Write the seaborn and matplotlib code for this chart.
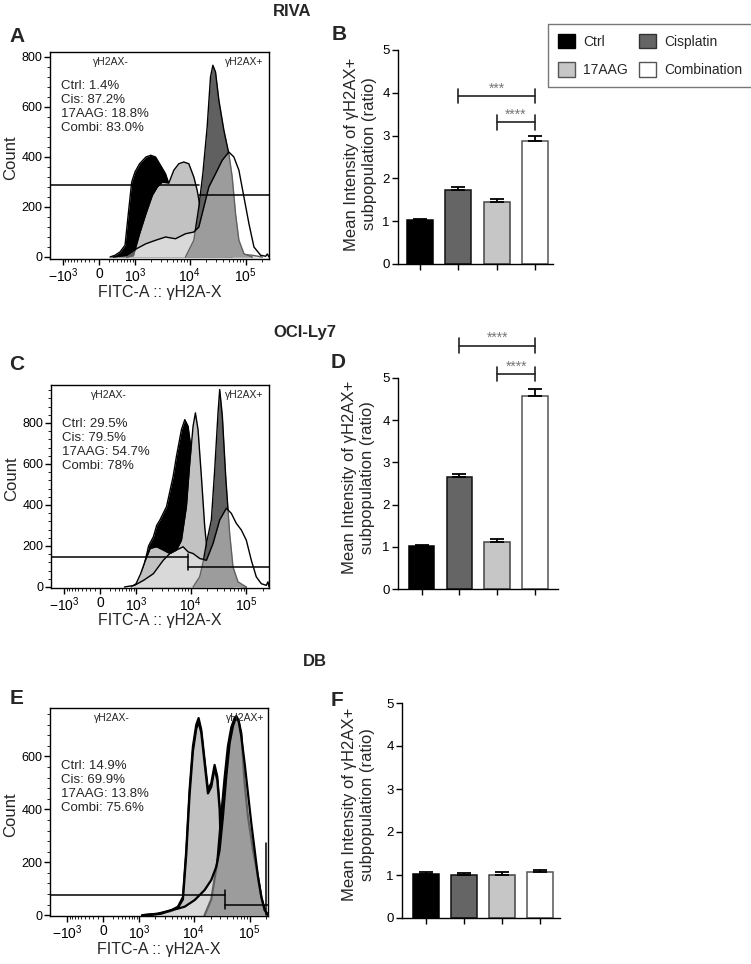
import numpy as np
import pandas as pd
import seaborn as sns
import matplotlib
matplotlib.use('Agg')
import matplotlib.pyplot as plt
from matplotlib.patches import Patch
from matplotlib.ticker import FixedLocator, AutoMinorLocator

# ---------------- bar chart data (B, D, F) ----------------
conditions = ['Ctrl', 'Cisplatin', '17AAG', 'Combination']
riva_mean = [1.02, 1.73, 1.46, 2.87]
riva_sem = [0.03, 0.08, 0.06, 0.12]
ocily7_mean = [1.01, 2.65, 1.12, 4.58]
ocily7_sem = [0.03, 0.07, 0.06, 0.17]
db_mean = [1.02, 1.01, 1.01, 1.07]
db_sem = [0.04, 0.03, 0.07, 0.05]

# significance brackets: (from bar, to bar, height, stars)
riva_sig = [(1, 3, 3.93, '***'), (2, 3, 3.31, '****')]
ocily7_sig = [(1, 3, 5.77, '****'), (2, 3, 5.10, '****')]
db_sig = []

# ---------------- flow histograms (A, C, E) ----------------
# x = FITC intensity, y = count
riva_ctrl_x = [225, 341, 468, 619, 730, 860, 1000, 1230, 1620, 1990, 2440, 3000, 3690, 4240, 5570, 8420, 14600, 29000, 57700]
riva_ctrl_y = [0, 7, 20, 47, 173, 300, 340, 373, 400, 407, 400, 367, 333, 293, 200, 100, 30, 5, 0]
riva_aag_x = [674, 931, 1230, 1620, 2130, 2620, 3215, 4240, 5200, 6400, 7870, 9665, 11880, 13620, 15630, 19220, 25290, 38200, 66170, 131600, 199000]
riva_aag_y = [0, 5, 93, 173, 247, 280, 300, 296, 347, 373, 380, 373, 320, 267, 193, 107, 53, 27, 13, 7, 0]
riva_cis_x = [8420, 11880, 14590, 17210, 20570, 23600, 26000, 29020, 33300, 40920, 50240, 57660, 66170, 75940, 93360, 131600]
riva_cis_y = [0, 67, 200, 333, 520, 720, 767, 740, 627, 507, 413, 320, 173, 67, 13, 0]
riva_combi_x = [300, 674, 1071, 1618, 2444, 3690, 5570, 8420, 11880, 14590, 17940, 22030, 29020, 38200, 50240, 61770, 75940, 93360, 114800, 141000, 185700, 228200, 244500, 262000]
riva_combi_y = [0, 7, 33, 53, 67, 80, 73, 93, 100, 120, 200, 280, 333, 387, 420, 400, 347, 240, 133, 40, 7, 3, 12, 0]

ocily7_ctrl_x = [931, 1229, 1733, 2130, 2444, 2805, 3690, 4860, 5570, 6855, 7870, 9020, 11090, 14590, 19220, 29020, 57660]
ocily7_ctrl_y = [0, 30, 200, 245, 300, 327, 392, 539, 637, 767, 816, 784, 600, 300, 100, 20, 0]
ocily7_aag_x = [797, 1000, 1229, 1510, 1857, 2444, 3215, 4235, 5570, 6855, 8420, 9665, 11090, 12210, 13620, 15630, 17940, 20570, 25290, 33300, 57660, 100000]
ocily7_aag_y = [0, 16, 65, 130, 188, 196, 180, 163, 180, 228, 392, 604, 784, 849, 767, 539, 294, 130, 49, 16, 5, 0]
ocily7_cis_x = [11090, 14590, 16740, 19220, 23600, 27090, 31090, 33300, 37150, 42660, 50240, 57660, 70890, 100000]
ocily7_cis_y = [0, 50, 120, 212, 327, 571, 849, 963, 833, 539, 261, 98, 25, 0]
ocily7_combi_x = [565, 931, 1409, 2130, 3215, 4235, 5570, 7345, 9020, 11090, 14590, 19220, 25290, 33300, 43840, 53820, 66170, 81350, 100000, 123000, 151000, 185700, 228200, 244500, 255000]
ocily7_combi_y = [0, 8, 33, 65, 130, 163, 180, 196, 171, 163, 139, 130, 212, 327, 384, 359, 310, 278, 228, 130, 49, 16, 8, 25, 0]

db_ctrl_x = [1147, 2280, 3955, 5200, 6400, 7345, 8420, 9665, 11090, 12210, 13620, 15630, 17940, 20570, 23600, 26370, 29020, 33300, 40920, 53820, 75940, 123000, 213000]
db_ctrl_y = [0, 6, 19, 32, 69, 246, 474, 638, 720, 745, 701, 587, 474, 499, 568, 524, 410, 246, 120, 57, 25, 13, 5]
db_aag_x = [1147, 2280, 3955, 5200, 6400, 7345, 8420, 9665, 11090, 12210, 13620, 15630, 17940, 20570, 23600, 26370, 29020, 31090, 35660, 46970, 66170, 114800, 173400, 213000]
db_aag_y = [0, 5, 16, 28, 60, 230, 455, 620, 705, 730, 690, 575, 460, 485, 555, 510, 400, 200, 158, 132, 95, 44, 13, 0]
db_cis_x = [15630, 20570, 26370, 31090, 35660, 40920, 46970, 53820, 57660, 63530, 70890, 81350, 93360, 114800, 141000, 161800, 185700, 213000]
db_cis_y = [0, 60, 200, 380, 520, 640, 710, 745, 752, 735, 688, 499, 373, 246, 145, 69, 20, 0]
db_combi_x = [1510, 2620, 3955, 5200, 6855, 10350, 15630, 20570, 25290, 29020, 33300, 38200, 43840, 50240, 57660, 63530, 70890, 81350, 93360, 107200, 123000, 141000, 161800, 185700, 213000]
db_combi_y = [0, 6, 19, 25, 32, 57, 95, 133, 183, 246, 373, 524, 650, 714, 752, 733, 676, 575, 461, 347, 246, 145, 69, 19, 0]

pct_names = ['Ctrl', 'Cis', '17AAG', 'Combi']
riva_pct = ['1.4%', '87.2%', '18.8%', '83.0%']
ocily7_pct = ['29.5%', '79.5%', '54.7%', '78%']
db_pct = ['14.9%', '69.9%', '13.8%', '75.6%']

# gates: (cut, negative-gate count, positive-gate count)
riva_gate = (14590, 287, 247)
ocily7_gate = (9020, 147, 98)
db_gate = (36600, 78, 38)

# ---------------- style ----------------
sns.set_theme(style='ticks')
plt.rcParams['font.family'] = ['Liberation Sans', 'DejaVu Sans']
plt.rcParams['mathtext.fontset'] = 'custom'
plt.rcParams['mathtext.rm'] = 'Liberation Sans'
plt.rcParams['mathtext.it'] = 'Liberation Sans:italic'
plt.rcParams['axes.edgecolor'] = 'black'
plt.rcParams['xtick.color'] = 'black'
plt.rcParams['ytick.color'] = 'black'

W, H = 751, 964
fig = plt.figure(figsize=(W / 100, H / 100), dpi=100)


def px_rect(l, t, r, b):
    return [l / W, 1 - b / H, (r - l) / W, (b - t) / H]


bar_colors = {'Ctrl': '#000000', 'Cisplatin': '#656565', '17AAG': '#c6c6c6', 'Combination': '#ffffff'}
bar_edges = ['#000000', '#111111', '#444444', '#555555']
hist_style = [('#000000', 1.0), ('#c2c2c2', 1.0), ('#606060', 1.0), ('#ffffff', 0.38)]


def fwd(v):
    return np.arcsinh(np.asarray(v, dtype=float) / 480.0)


def inv(u):
    return 480.0 * np.sinh(np.asarray(u, dtype=float))


minor_x = [-m * 100 for m in range(1, 10)] + [m * 10 ** e for e in (2, 3, 4) for m in range(2, 10)] + [200000]


def hist_panel(rect, curves, xlim, ylim, yticks, pct, pct_top, gate, tick, lab_x, ylab_y, lw):
    ax = fig.add_axes(rect)
    ax.set_xscale('function', functions=(fwd, inv))
    for i, ((xs, ys), (face, alpha)) in enumerate(zip(curves, hist_style)):
        ax.fill_between(xs, 0, ys, color=face, alpha=alpha, lw=0, zorder=2 + i)
        ax.plot(xs, ys, color='black', lw=lw, zorder=2.5 + i)
    cut, neg_y, pos_y = gate
    ax.plot([xlim[0], cut], [neg_y, neg_y], color='black', lw=1.1, zorder=10)
    ax.plot([cut, xlim[1]], [pos_y, pos_y], color='black', lw=1.1, zorder=10)
    if tick is not None:
        ax.plot([cut, cut], tick, color='black', lw=1.1, zorder=10)
    ax.set_xlim(xlim)
    ax.set_ylim(ylim)
    ax.set_xticks([-1000, 0, 1000, 10000, 100000])
    ax.set_xticklabels([r'$-10^3$', '0', r'$10^3$', r'$10^4$', r'$10^5$'])
    ax.xaxis.set_minor_locator(FixedLocator(minor_x))
    ax.set_yticks(yticks)
    ax.yaxis.set_minor_locator(AutoMinorLocator(5))
    ax.tick_params(which='major', direction='out', length=4, width=1, labelsize=9, pad=1.5)
    ax.tick_params(axis='x', which='major', labelsize=10)
    ax.tick_params(which='minor', direction='out', length=2, width=0.6)
    for s in ax.spines.values():
        s.set_linewidth(1)
        s.set_color('black')
    ax.text(0.05, pct_top, '\n'.join(f'{n}: {p}' for n, p in zip(pct_names, pct)),
            transform=ax.transAxes, ha='left', va='top', fontsize=9.5, linespacing=1.22, zorder=20)
    ax.text(lab_x[0], 0.952, 'γH2AX-', transform=ax.transAxes, ha='center', va='center', fontsize=7.5, zorder=20)
    ax.text(lab_x[1], 0.952, 'γH2AX+', transform=ax.transAxes, ha='center', va='center', fontsize=7.5, zorder=20)
    ax.set_ylabel('Count', fontsize=12)
    ax.yaxis.set_label_coords(-0.147, ylab_y)
    ax.set_xlabel('FITC-A :: γH2A-X', fontsize=11.5)
    ax.xaxis.set_label_coords(0.5, -0.125)
    return ax


def bar_panel(rect, means, sems, xlim, sig, ylab_x, ylab_y):
    ax = fig.add_axes(rect)
    df = pd.DataFrame({'condition': conditions, 'value': means})
    sns.barplot(data=df, x='condition', y='value', hue='condition', order=conditions,
                hue_order=conditions, palette=bar_colors, width=0.68, legend=False,
                errorbar=None, edgecolor='black', linewidth=1.1, ax=ax)
    for patch, ec in zip(ax.patches, bar_edges):
        patch.set_edgecolor(ec)
    ax.errorbar(range(len(means)), means, yerr=[np.zeros(len(sems)), sems], fmt='none',
                ecolor='black', elinewidth=1.3, capsize=5, capthick=1.3, zorder=3)
    for x1, x2, y, stars in sig:
        ax.plot([x1, x2], [y, y], color='#222222', lw=1.2, clip_on=False)
        ax.plot([x1, x1], [y - 0.17, y + 0.17], color='#222222', lw=1.2, clip_on=False)
        ax.plot([x2, x2], [y - 0.17, y + 0.17], color='#222222', lw=1.2, clip_on=False)
        ax.text((x1 + x2) / 2, y + 0.08, stars, ha='center', va='baseline', fontsize=10,
                color='#777777', clip_on=False)
    ax.set_xlim(xlim)
    ax.set_ylim(0, 5)
    ax.set_yticks(range(6))
    ax.set_xticks(range(4))
    ax.set_xticklabels([])
    ax.set_xlabel('')
    ax.set_ylabel('Mean Intensity of γH2AX+\nsubpopulation (ratio)', fontsize=12, linespacing=1.25)
    ax.yaxis.set_label_coords(ylab_x, ylab_y)
    ax.tick_params(direction='out', length=4, width=1, labelsize=9.5, pad=2)
    sns.despine(ax=ax)
    for s in ('left', 'bottom'):
        ax.spines[s].set_linewidth(1)
    return ax


# ---- panel A / B (RIVA)
hist_panel(px_rect(50, 52, 269, 259),
           [(riva_ctrl_x, riva_ctrl_y), (riva_aag_x, riva_aag_y), (riva_cis_x, riva_cis_y), (riva_combi_x, riva_combi_y)],
           (-1770, 262000), (-8, 820), [0, 200, 400, 600, 800], riva_pct, 0.865, riva_gate, None,
           (0.28, 0.886), 0.49, 1.0)
bar_panel(px_rect(398, 50, 553, 264), riva_mean, riva_sem, (-0.57, 3.47), riva_sig, -0.138, 0.514)

# ---- panel C / D (OCI-Ly7)
hist_panel(px_rect(51, 385, 269, 588),
           [(ocily7_ctrl_x, ocily7_ctrl_y), (ocily7_aag_x, ocily7_aag_y), (ocily7_cis_x, ocily7_cis_y), (ocily7_combi_x, ocily7_combi_y)],
           (-1800, 255000), (-5, 985), [0, 200, 400, 600, 800], ocily7_pct, 0.835, ocily7_gate, (82, 163),
           (0.266, 0.885), 0.54, 1.0)
bar_panel(px_rect(398, 378, 558, 589), ocily7_mean, ocily7_sem, (-0.62, 3.6), ocily7_sig, -0.146, 0.53)

# ---- panel E / F (DB)
ax_e = hist_panel(px_rect(50, 708, 268, 916),
                  [(db_ctrl_x, db_ctrl_y), (db_aag_x, db_aag_y), (db_cis_x, db_cis_y), (db_combi_x, db_combi_y)],
                  (-2120, 213000), (-3, 783), [0, 200, 400, 600], db_pct, 0.75, db_gate, (25, 95),
                  (0.284, 0.895), 0.486, 1.6)
ax_e.plot([193600, 193600], [0, 274], color='black', lw=1.1, zorder=10)
bar_panel(px_rect(402, 703, 560, 918), db_mean, db_sem, (-0.64, 3.52), db_sig, -0.169, 0.527)

# ---- legend
handles = [Patch(facecolor=bar_colors[c], edgecolor=e, lw=1) for c, e in zip(conditions, ['#000000', '#333333', '#555555', '#555555'])]
order = [0, 2, 1, 3]
fig.legend([handles[i] for i in order], [conditions[i] for i in order], loc='upper left',
           bbox_to_anchor=(548 / W, 1 - 24 / H), ncol=2, frameon=True, fancybox=False,
           edgecolor='#555555', fontsize=10, handlelength=1.25, handleheight=1.25,
           handletextpad=0.6, columnspacing=0.75, labelspacing=0.95, borderpad=0.7,
           borderaxespad=0).get_frame().set_linewidth(1)

# ---- titles and panel letters
for label, (x, y) in {'RIVA': (273, 12), 'OCI-Ly7': (273, 332), 'DB': (303, 662)}.items():
    fig.text(x / W, 1 - y / H, label, ha='left', va='center', fontsize=12, fontweight='bold')
for label, (x, y) in {'A': (17, 36), 'B': (339, 35), 'C': (17, 364), 'D': (338, 362),
                      'E': (17, 699), 'F': (337, 700)}.items():
    fig.text(x / W, 1 - y / H, label, ha='center', va='center', fontsize=15, fontweight='bold')

fig.savefig('out.png', dpi=100)
